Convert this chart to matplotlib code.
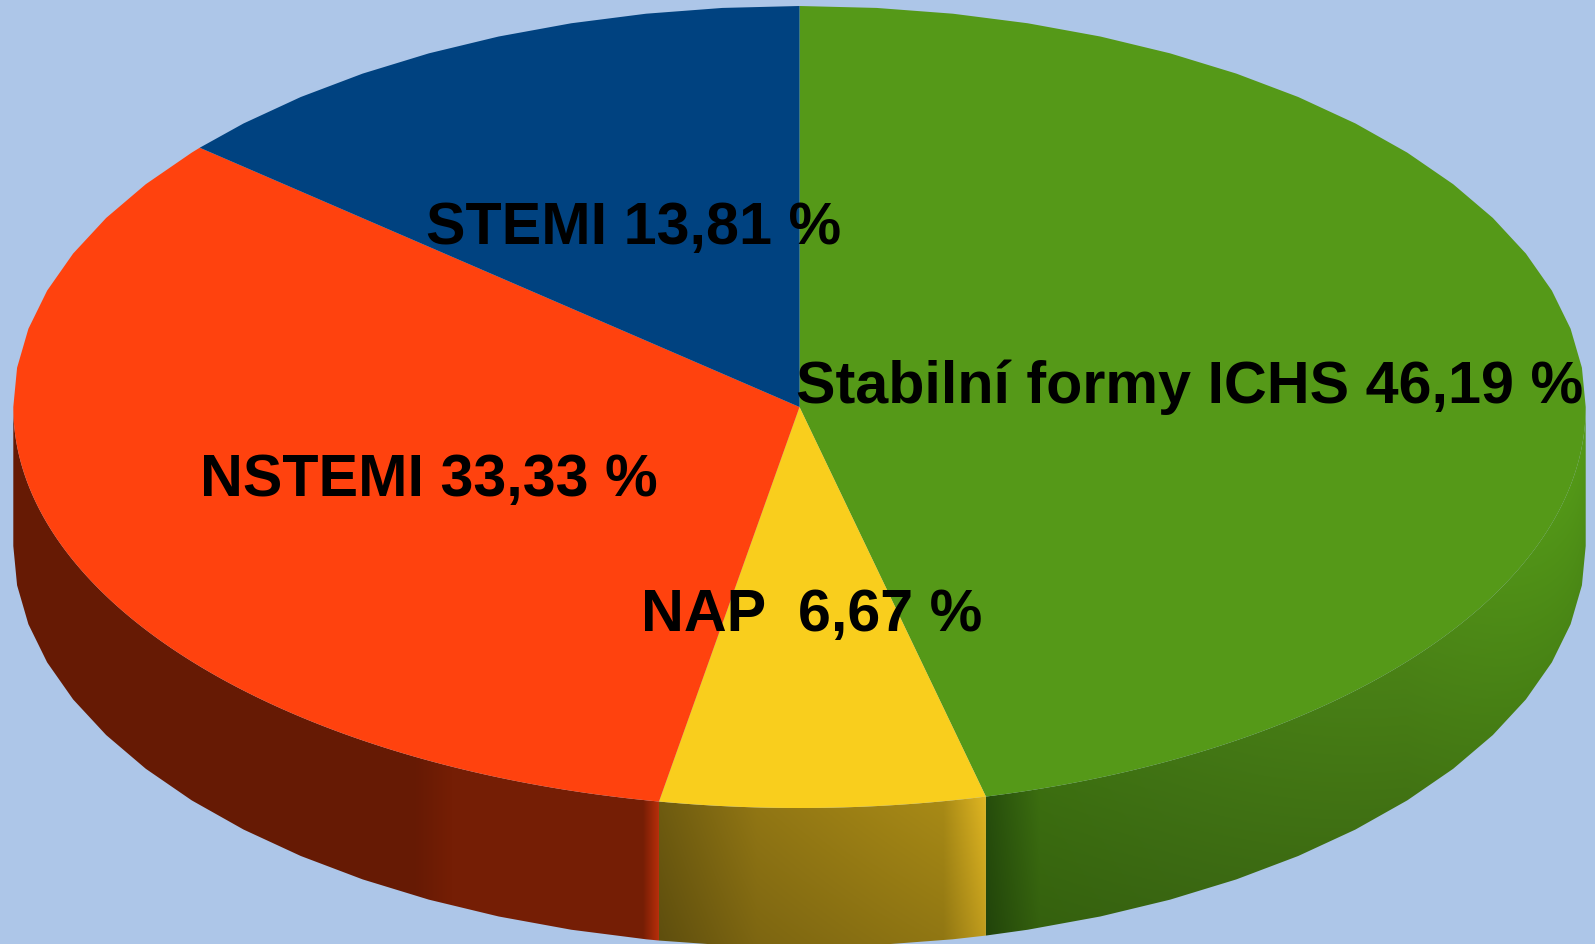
import numpy as np
import matplotlib
matplotlib.use("Agg")
import matplotlib.pyplot as plt
from matplotlib.patches import PathPatch, Polygon
from matplotlib.path import Path
from matplotlib.colors import to_rgb

# Data
labels = ["Stabilní formy ICHS 46,19 %", "NAP  6,67 %", "NSTEMI 33,33 %", "STEMI 13,81 %"]
values = [46.19, 6.67, 33.33, 13.81]
top_colors = ["#559918", "#f9ce1d", "#ff420e", "#004280"]
label_pos = [(796, 403), (641, 631), (200, 496), (426, 244)]

# side wall colours, left to right across each slice (fraction of its width, colour)
side_stops = [
    [(0.00, "#264d0c"), (0.09, "#3c6e10"), (0.30, "#417414"), (0.70, "#4a8216"), (1.00, "#549a18")],
    [(0.00, "#6e5b10"), (0.30, "#917614"), (0.87, "#a88a16"), (1.00, "#e0b622")],
    [(0.00, "#661a04"), (0.62, "#661a04"), (0.68, "#751e05"), (0.975, "#751e05"), (1.00, "#b82e0a")],
    None,
]

# Layout constants
W, H = 1595, 944
cx, cy = 799.5, 407
rx, ry = 786.2, 401
depth = 139
bg = "#adc6e8"
step = 360 / 64  # back rim and wall bottom are polygons, front rim is smooth


def rim(t):
    # t is degrees clockwise from 12 o'clock
    r = np.radians(t)
    return cx + rx * np.sin(r), cy - ry * np.cos(r)


def arc(a0, a1, div=1):
    s = step / div
    inner = np.arange(np.ceil(a0 / s), np.floor(a1 / s) + 1) * s
    return np.unique(np.concatenate([[a0], inner, [a1]]))


def top_arc(a0, a1):
    # fine steps along the front half only
    parts = []
    if a0 < 90:
        parts.append(arc(a0, min(a1, 90)))
    if a1 > 90 and a0 < 270:
        parts.append(arc(max(a0, 90), min(a1, 270), div=12))
    if a1 > 270:
        parts.append(arc(max(a0, 270), a1))
    return np.unique(np.concatenate(parts))


fig = plt.figure(figsize=(W / 100, H / 100), dpi=100, facecolor=bg)
ax = fig.add_axes([0, 0, 1, 1])
ax.set_xlim(0, W)
ax.set_ylim(H, 0)
ax.axis("off")

angles = np.concatenate([[0], np.cumsum(values) / np.sum(values) * 360])

# Side walls, only the front half of the disc shows
xx, yy = np.meshgrid(np.arange(W) + 0.5, np.arange(H) + 0.5)
for i, stops in enumerate(side_stops):
    if stops is None:
        continue
    a0 = max(angles[i], 90)
    a1 = min(angles[i + 1], 270)
    x, y = rim(arc(a0, a1, div=12))
    xb, yb = rim(arc(a0, a1))
    verts = np.vstack([np.column_stack([x, y]), np.column_stack([xb[::-1], yb[::-1] + depth])])
    path = Path(np.vstack([verts, verts[:1]]), closed=True)

    x_lo, x_hi = x.min(), x.max()
    pos = (xx - x_lo) / (x_hi - x_lo)
    img = np.zeros((H, W, 3))
    fr = [s[0] for s in stops]
    for c in range(3):
        img[:, :, c] = np.interp(pos, fr, [to_rgb(s[1])[c] for s in stops])
    # slightly darker towards the bottom of the wall
    order = np.argsort(x)
    edge_y = np.interp(xx, x[order], y[order])
    fall = np.clip((yy - edge_y) / depth, 0, 1)
    amount = [0.12, 0.14, 0.0, 0.0][i]
    img *= (1 - amount * fall)[:, :, None]

    im = ax.imshow(img, extent=(0, W, H, 0), interpolation="nearest", zorder=1, aspect="auto")
    clip = PathPatch(path, transform=ax.transData, facecolor="none", edgecolor="none")
    ax.add_patch(clip)
    im.set_clip_path(clip)

ax.set_xlim(0, W)
ax.set_ylim(H, 0)

# Top face
for i, col in enumerate(top_colors):
    x, y = rim(top_arc(angles[i], angles[i + 1]))
    pts = np.vstack([[cx, cy], np.column_stack([x, y])])
    ax.add_patch(Polygon(pts, closed=True, facecolor=col, edgecolor="none", zorder=2))

for lab, (lx, ly) in zip(labels, label_pos):
    ax.text(lx, ly, lab, ha="left", va="baseline", fontsize=42.65,
            fontfamily="Liberation Sans", fontweight="bold", color="black", zorder=3)

fig.savefig("out.png", dpi=100, facecolor=bg)
plt.close(fig)
